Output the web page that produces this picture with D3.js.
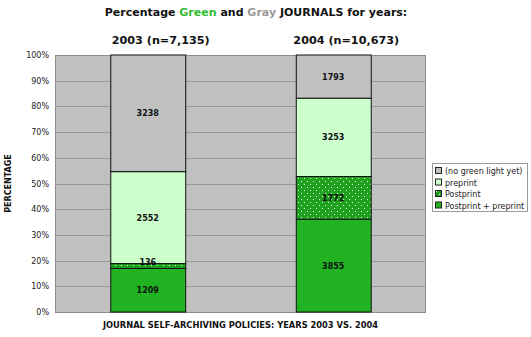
<!DOCTYPE html>
<html>
<head>
<meta charset="utf-8">
<script src="https://cdn.jsdelivr.net/npm/d3@7"></script>
<style>
  html, body { margin: 0; padding: 0; background: #fff; }
  svg { display: block; font-family: Verdana, "DejaVu Sans", sans-serif; }
</style>
</head>
<body>
<svg id="chart" width="531" height="337"></svg>
<script>
// Journal counts per self-archiving policy, bottom to top of each stacked bar
const years = ["2003", "2004"];
const yearTitles = ["2003 (n=7,135)", "2004 (n=10,673)"];
const seriesNames = ["Postprint + preprint", "Postprint", "preprint", "(no green light yet)"];
const postprintPreprint = [1209, 3855];
const postprintOnly = [136, 1772];
const preprintOnly = [2552, 3253];
const noGreenLight = [3238, 1793];
const yTicks = [0, 0.1, 0.2, 0.3, 0.4, 0.5, 0.6, 0.7, 0.8, 0.9, 1.0];

const svg = d3.select("#chart");
const plot = { left: 55, right: 426, top: 55, bottom: 312 };

const fills = {
  "Postprint + preprint": "#22b322",
  "Postprint": "url(#dots)",
  "preprint": "#ccffcc",
  "(no green light yet)": "#c0c0c0"
};

// dotted fill for the "Postprint" segment
const defs = svg.append("defs");
const pat = defs.append("pattern").attr("id", "dots")
  .attr("patternUnits", "userSpaceOnUse").attr("width", 6).attr("height", 6);
pat.append("rect").attr("width", 6).attr("height", 6).attr("fill", "#1fa01f");
pat.append("rect").attr("x", 1).attr("y", 1).attr("width", 1).attr("height", 1).attr("fill", "#e8ffe8");
pat.append("rect").attr("x", 4).attr("y", 4).attr("width", 1).attr("height", 1).attr("fill", "#e8ffe8");

const x = d3.scaleBand().domain(years).range([plot.left, plot.right]).paddingInner(0.596).paddingOuter(0.298);
const y = d3.scaleLinear().domain([0, 1]).range([plot.bottom, plot.top]);

// plot background
svg.append("rect")
  .attr("x", plot.left).attr("y", plot.top)
  .attr("width", plot.right - plot.left).attr("height", plot.bottom - plot.top)
  .attr("fill", "#c0c0c0");

// gridlines
svg.append("g").selectAll("line").data(yTicks.slice(1, -1)).join("line")
  .attr("x1", plot.left).attr("x2", plot.right)
  .attr("y1", d => Math.round(y(d)) + 0.5).attr("y2", d => Math.round(y(d)) + 0.5)
  .attr("stroke", "#999").attr("stroke-width", 1);

svg.append("rect")
  .attr("x", plot.left + 0.5).attr("y", plot.top + 0.5)
  .attr("width", plot.right - plot.left - 1).attr("height", plot.bottom - plot.top)
  .attr("fill", "none").attr("stroke", "#8c8c8c");

// y axis
const yAxis = d3.axisLeft(y).tickValues(yTicks).tickFormat(d3.format(".0%")).tickSize(0).tickPadding(6);
const ya = svg.append("g").attr("transform", `translate(${plot.left},0)`).call(yAxis);
ya.select(".domain").remove();
ya.selectAll("text").attr("font-size", 8).attr("fill", "#222")
  .attr("font-family", "Verdana, 'DejaVu Sans', sans-serif");

// stacked data
const rows = years.map((yr, i) => ({
  year: yr,
  "Postprint + preprint": postprintPreprint[i],
  "Postprint": postprintOnly[i],
  "preprint": preprintOnly[i],
  "(no green light yet)": noGreenLight[i]
}));
const stack = d3.stack().keys(seriesNames).offset(d3.stackOffsetExpand);
const series = stack(rows);

const groups = svg.append("g").selectAll("g").data(series).join("g")
  .attr("fill", d => fills[d.key]);
groups.selectAll("rect").data(d => d).join("rect")
  .attr("x", d => x(d.data.year) + 0.5)
  .attr("width", x.bandwidth())
  .attr("y", d => y(d[1]))
  .attr("height", d => y(d[0]) - y(d[1]))
  .attr("stroke", "#111").attr("stroke-width", 1);

// value labels
series.forEach(s => {
  s.forEach(d => {
    const cx = x(d.data.year) + x.bandwidth() / 2;
    let cy = (y(d[0]) + y(d[1])) / 2;
    const h = y(d[0]) - y(d[1]);
    if (h < 10) cy = y(d[1]) - 2;
    svg.append("text")
      .attr("x", cx).attr("y", cy + 3)
      .attr("text-anchor", "middle")
      .attr("font-size", 8).attr("font-weight", "bold").attr("fill", "#111")
      .text(d.data[s.key]);
  });
});

// titles
const title = svg.append("text").attr("x", 256).attr("y", 16)
  .attr("text-anchor", "middle").attr("font-size", 11).attr("font-weight", "bold").attr("fill", "#111");
title.append("tspan").text("Percentage ");
title.append("tspan").attr("fill", "#33bb33").text("Green");
title.append("tspan").text(" and ");
title.append("tspan").attr("fill", "#999999").text("Gray");
title.append("tspan").text(" JOURNALS for years:");

svg.append("g").selectAll("text").data(years).join("text")
  .attr("x", d => x(d) + x.bandwidth() / 2 + 13)
  .attr("y", 44)
  .attr("text-anchor", "middle").attr("font-size", 11.2).attr("font-weight", "bold").attr("fill", "#111")
  .text((d, i) => yearTitles[i]);

svg.append("text")
  .attr("transform", `translate(11,${(plot.top + plot.bottom) / 2}) rotate(-90)`)
  .attr("text-anchor", "middle").attr("font-size", 8).attr("font-weight", "bold").attr("fill", "#111")
  .text("PERCENTAGE");

svg.append("text").attr("x", 240.5).attr("y", 328)
  .attr("text-anchor", "middle").attr("font-size", 8.3).attr("font-weight", "bold").attr("fill", "#111")
  .text("JOURNAL SELF-ARCHIVING POLICIES: YEARS 2003 VS. 2004");

// legend
const legendOrder = seriesNames.slice().reverse();
const lg = svg.append("g").attr("transform", "translate(432,163)");
lg.append("rect").attr("x", 0.5).attr("y", 0.5).attr("width", 95).attr("height", 48)
  .attr("fill", "#fff").attr("stroke", "#9a9a9a");
const items = lg.selectAll("g").data(legendOrder).join("g")
  .attr("transform", (d, i) => `translate(3,${4 + i * 11.5})`);
items.append("rect").attr("x", 0.5).attr("y", 0.5).attr("width", 6).attr("height", 6)
  .attr("fill", d => fills[d]).attr("stroke", "#222");
items.append("text").attr("x", 10).attr("y", 7)
  .attr("font-size", 8).attr("fill", "#222").text(d => d);
</script>
</body>
</html>
